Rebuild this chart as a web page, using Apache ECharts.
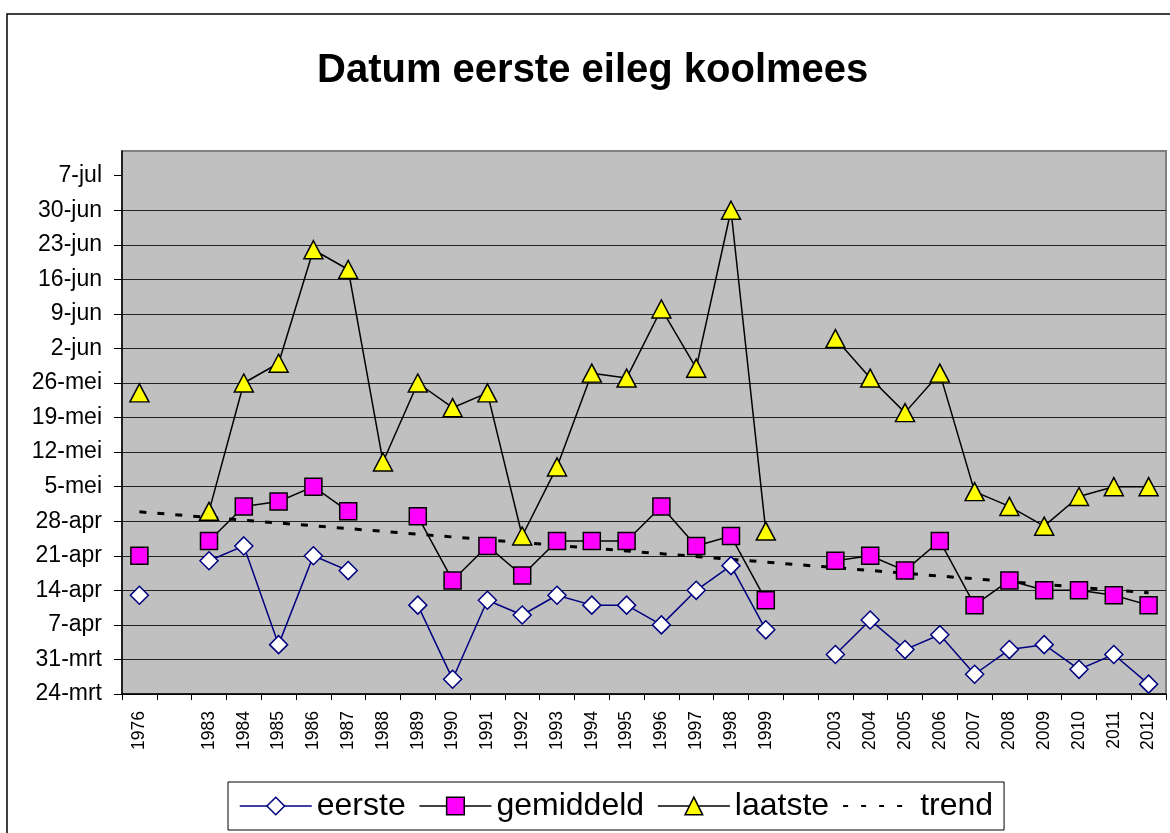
<!DOCTYPE html>
<html>
<head>
<meta charset="utf-8">
<title>Datum eerste eileg koolmees</title>
<script src="https://cdn.jsdelivr.net/npm/echarts@6/dist/echarts.min.js"></script>
<style>
  html, body { margin: 0; padding: 0; background: #fff; }
  #chart { width: 1170px; height: 833px; }
</style>
</head>
<body>
<div id="chart"></div>
<script>
// jaren op de x-as ('' = lege kolom tussen de reeksen)
var years = ['1976', '', '1983', '1984', '1985', '1986', '1987', '1988', '1989', '1990',
  '1991', '1992', '1993', '1994', '1995', '1996', '1997', '1998', '1999', '',
  '2003', '2004', '2005', '2006', '2007', '2008', '2009', '2010', '2011', '2012'];

// alle waarden in dagen na 24 maart
var eerste = [20, null, 27, 30, 10, 28, 25, null, 18, 3,
  19, 16, 20, 18, 18, 14, 21, 26, 13, null,
  8, 15, 9, 12, 4, 9, 10, 5, 8, 2];
var gemiddeld = [28, null, 31, 38, 39, 42, 37, null, 36, 23,
  30, 24, 31, 31, 31, 38, 30, 32, 19, null,
  27, 28, 25, 31, 18, 23, 21, 21, 20, 18];
var laatste = [61, null, 37, 63, 67, 90, 86, 47, 63, 58,
  61, 32, 46, 65, 64, 78, 66, 98, 33, null,
  72, 64, 57, 65, 41, 38, 34, 40, 42, 42];
// trendlijn: begin- en eindpunt, de rest wordt verbonden
var trend = [36.9, null, null, null, null, null, null, null, null, null,
  null, null, null, null, null, null, null, null, null, null,
  null, null, null, null, null, null, null, null, null, 20.5];

// labels op de y-as, één per week
var dateLabels = ['24-mrt', '31-mrt', '7-apr', '14-apr', '21-apr', '28-apr', '5-mei', '12-mei',
  '19-mei', '26-mei', '2-jun', '9-jun', '16-jun', '23-jun', '30-jun', '7-jul'];
var tickDays = dateLabels.map(function (d, i) { return i * 7; });

var font = '"Liberation Sans", Arial, sans-serif';

var myChart = echarts.init(document.getElementById('chart'));

function lineSeries(name, data, symbol, size, fill, stroke) {
  return {
    name: name,
    type: 'line',
    data: data,
    symbol: symbol,
    symbolSize: size,
    showAllSymbol: true,
    connectNulls: false,
    clip: false,
    itemStyle: { color: fill, borderColor: stroke, borderWidth: 1.5 },
    lineStyle: { color: stroke, width: 1.5 },
    emphasis: { disabled: true }
  };
}

myChart.setOption({
  animation: false,
  backgroundColor: '#fff',
  title: {
    text: 'Datum eerste eileg koolmees',
    left: 317,
    top: 51,
    padding: 0,
    textStyle: { fontSize: 40, fontWeight: 'bold', color: '#000', fontFamily: font }
  },
  graphic: [{
    type: 'rect',
    shape: { x: 7, y: 14, width: 1200, height: 900 },
    style: { fill: null, stroke: '#000', lineWidth: 1.5 },
    silent: true
  }],
  legend: {
    left: 228,
    top: 782,
    padding: [8, 11, 8, 11],
    borderColor: '#000',
    borderWidth: 1,
    itemWidth: 72,
    itemHeight: 22,
    itemGap: 13,
    selectedMode: false,
    textStyle: { fontSize: 32, color: '#000', fontFamily: font },
    data: [
      { name: 'eerste', itemStyle: { color: '#fff', borderColor: '#000080', borderWidth: 1.5 },
        lineStyle: { color: '#000080', width: 1.5 } },
      { name: 'gemiddeld', itemStyle: { color: '#FF00FF', borderColor: '#000', borderWidth: 1.5 },
        lineStyle: { color: '#000', width: 1.5 } },
      { name: 'laatste', itemStyle: { color: '#FFFF00', borderColor: '#000', borderWidth: 1.5 },
        lineStyle: { color: '#000', width: 1.5 } },
      { name: 'trend', itemStyle: { color: 'rgba(0,0,0,0)', borderWidth: 0 },
        lineStyle: { color: '#000', width: 2, type: [5, 13] } }
    ]
  },
  grid: {
    left: 122,
    top: 151,
    right: 4,
    bottom: 139,
    show: true,
    backgroundColor: '#C0C0C0',
    borderColor: '#808080',
    borderWidth: 2
  },
  xAxis: {
    type: 'category',
    data: years,
    boundaryGap: true,
    axisLine: { lineStyle: { color: '#000', width: 1.5 } },
    axisTick: { show: true, length: 6, alignWithLabel: false, interval: 0, lineStyle: { color: '#000' } },
    axisLabel: {
      interval: 0,
      rotate: 90,
      margin: 17,
      fontSize: 17.5,
      color: '#000',
      fontFamily: font
    },
    splitLine: { show: false }
  },
  yAxis: {
    type: 'value',
    min: 0,
    max: 110,
    interval: 7,
    axisLine: { show: true, lineStyle: { color: '#000', width: 1.5 } },
    axisTick: { show: true, length: 8, customValues: tickDays, lineStyle: { color: '#000' } },
    axisLabel: {
      margin: 20,
      fontSize: 23,
      color: '#000',
      fontFamily: font,
      customValues: tickDays,
      formatter: function (v) {
        return v % 7 === 0 && dateLabels[v / 7] ? dateLabels[v / 7] : '';
      }
    },
    splitLine: { show: true, showMaxLine: false, lineStyle: { color: '#222', width: 1 } }
  },
  series: [
    lineSeries('eerste', eerste, 'diamond', [18, 18], '#fff', '#000080'),
    lineSeries('gemiddeld', gemiddeld, 'rect', 17, '#FF00FF', '#000'),
    lineSeries('laatste', laatste, 'triangle', [19, 18], '#FFFF00', '#000'),
    {
      name: 'trend',
      type: 'line',
      data: trend,
      symbol: 'none',
      connectNulls: true,
      itemStyle: { color: 'rgba(0,0,0,0)' },
      lineStyle: { color: '#000', width: 3, type: [7, 11] },
      emphasis: { disabled: true }
    }
  ]
});
</script>
</body>
</html>
